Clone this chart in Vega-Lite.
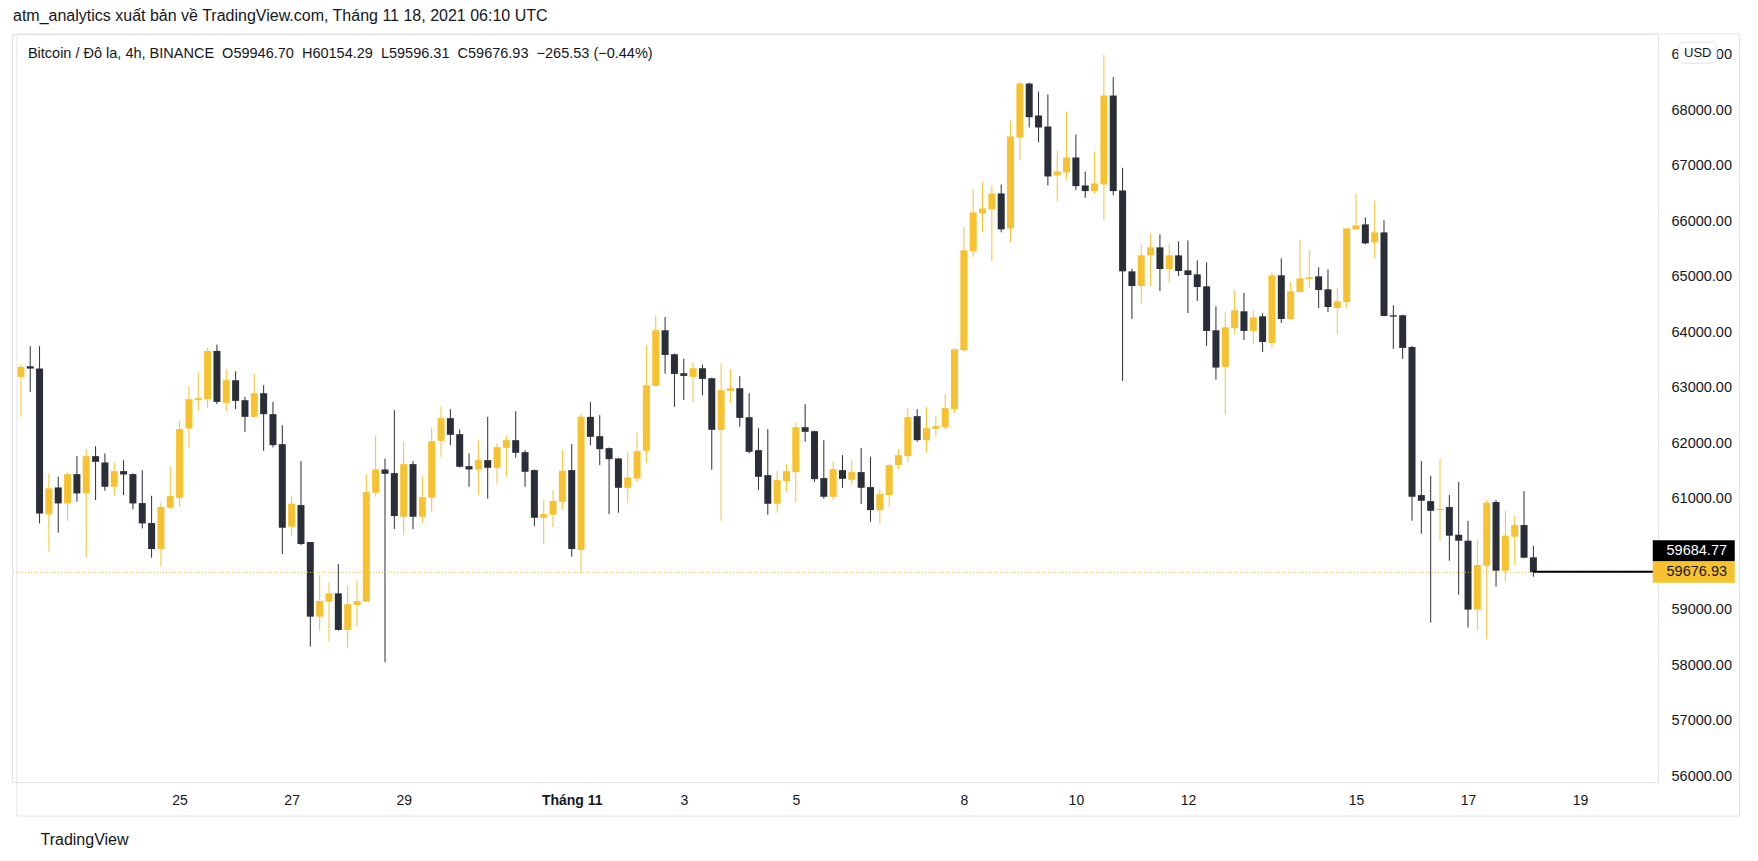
{
"$schema": "https://vega.github.io/schema/vega-lite/v6.json",
"width": 1646,
"height": 748,
"autosize": {"type": "none"},
"padding": {"left": 12, "top": 34, "right": 100, "bottom": 79},
"background": "white",
"config": {"view": {"stroke": "#e0e3eb", "strokeWidth": 1}},
"title": {"text": "atm_analytics xuất bản về TradingView.com, Tháng 11 18, 2021 06:10 UTC", "anchor": "start", "frame": "group", "offset": 10, "font": "Liberation Sans", "fontSize": 16, "fontWeight": "normal", "color": "#131722", "dx": 1},
"data": {"values": [
{"t":"2021-10-22T04:00:00Z","o":63198,"h":63426,"l":62478,"c":63378},
{"t":"2021-10-22T08:00:00Z","o":63390,"h":63750,"l":62928,"c":63348},
{"t":"2021-10-22T12:00:00Z","o":63348,"h":63750,"l":60558,"c":60738},
{"t":"2021-10-22T16:00:00Z","o":60720,"h":61458,"l":60048,"c":61188},
{"t":"2021-10-22T20:00:00Z","o":61206,"h":61398,"l":60390,"c":60918},
{"t":"2021-10-23T00:00:00Z","o":60918,"h":61470,"l":60606,"c":61446},
{"t":"2021-10-23T04:00:00Z","o":61446,"h":61770,"l":60948,"c":61098},
{"t":"2021-10-23T08:00:00Z","o":61098,"h":61896,"l":59940,"c":61770},
{"t":"2021-10-23T12:00:00Z","o":61770,"h":61950,"l":60978,"c":61668},
{"t":"2021-10-23T16:00:00Z","o":61656,"h":61818,"l":61146,"c":61218},
{"t":"2021-10-23T20:00:00Z","o":61218,"h":61656,"l":61056,"c":61500},
{"t":"2021-10-24T00:00:00Z","o":61500,"h":61698,"l":61068,"c":61440},
{"t":"2021-10-24T04:00:00Z","o":61446,"h":61458,"l":60810,"c":60918},
{"t":"2021-10-24T08:00:00Z","o":60924,"h":61518,"l":60468,"c":60558},
{"t":"2021-10-24T12:00:00Z","o":60564,"h":61056,"l":59940,"c":60096},
{"t":"2021-10-24T16:00:00Z","o":60096,"h":60930,"l":59778,"c":60852},
{"t":"2021-10-24T20:00:00Z","o":60840,"h":61578,"l":60810,"c":61050},
{"t":"2021-10-25T00:00:00Z","o":61020,"h":62406,"l":60858,"c":62256},
{"t":"2021-10-25T04:00:00Z","o":62268,"h":63030,"l":61920,"c":62796},
{"t":"2021-10-25T08:00:00Z","o":62778,"h":63276,"l":62586,"c":62814},
{"t":"2021-10-25T12:00:00Z","o":62796,"h":63720,"l":62646,"c":63666},
{"t":"2021-10-25T16:00:00Z","o":63666,"h":63780,"l":62706,"c":62748},
{"t":"2021-10-25T20:00:00Z","o":62730,"h":63336,"l":62586,"c":63138},
{"t":"2021-10-26T00:00:00Z","o":63138,"h":63300,"l":62616,"c":62766},
{"t":"2021-10-26T04:00:00Z","o":62778,"h":62838,"l":62208,"c":62478},
{"t":"2021-10-26T08:00:00Z","o":62478,"h":63246,"l":62478,"c":62904},
{"t":"2021-10-26T12:00:00Z","o":62904,"h":63048,"l":61866,"c":62526},
{"t":"2021-10-26T16:00:00Z","o":62526,"h":62748,"l":61926,"c":61968},
{"t":"2021-10-26T20:00:00Z","o":61986,"h":62328,"l":60006,"c":60480},
{"t":"2021-10-27T00:00:00Z","o":60498,"h":61056,"l":60330,"c":60912},
{"t":"2021-10-27T04:00:00Z","o":60888,"h":61680,"l":60168,"c":60186},
{"t":"2021-10-27T08:00:00Z","o":60222,"h":60222,"l":58338,"c":58878},
{"t":"2021-10-27T12:00:00Z","o":58878,"h":59628,"l":58626,"c":59160},
{"t":"2021-10-27T16:00:00Z","o":59148,"h":59490,"l":58428,"c":59298},
{"t":"2021-10-27T20:00:00Z","o":59298,"h":59826,"l":58626,"c":58638},
{"t":"2021-10-28T00:00:00Z","o":58638,"h":59430,"l":58320,"c":59100},
{"t":"2021-10-28T04:00:00Z","o":59088,"h":59538,"l":58698,"c":59160},
{"t":"2021-10-28T08:00:00Z","o":59148,"h":61446,"l":59148,"c":61122},
{"t":"2021-10-28T12:00:00Z","o":61110,"h":62130,"l":61038,"c":61530},
{"t":"2021-10-28T16:00:00Z","o":61530,"h":61728,"l":58056,"c":61452},
{"t":"2021-10-28T20:00:00Z","o":61464,"h":62598,"l":60456,"c":60690},
{"t":"2021-10-29T00:00:00Z","o":60678,"h":62028,"l":60348,"c":61626},
{"t":"2021-10-29T04:00:00Z","o":61626,"h":61680,"l":60456,"c":60678},
{"t":"2021-10-29T08:00:00Z","o":60678,"h":61410,"l":60558,"c":61032},
{"t":"2021-10-29T12:00:00Z","o":61020,"h":62286,"l":60768,"c":62040},
{"t":"2021-10-29T16:00:00Z","o":62046,"h":62670,"l":61758,"c":62454},
{"t":"2021-10-29T20:00:00Z","o":62454,"h":62616,"l":61968,"c":62154},
{"t":"2021-10-30T00:00:00Z","o":62166,"h":62250,"l":61566,"c":61578},
{"t":"2021-10-30T04:00:00Z","o":61590,"h":61818,"l":61218,"c":61530},
{"t":"2021-10-30T08:00:00Z","o":61530,"h":62058,"l":61068,"c":61698},
{"t":"2021-10-30T12:00:00Z","o":61698,"h":62478,"l":61002,"c":61560},
{"t":"2021-10-30T16:00:00Z","o":61560,"h":61998,"l":61266,"c":61932},
{"t":"2021-10-30T20:00:00Z","o":61920,"h":62148,"l":61398,"c":62058},
{"t":"2021-10-31T00:00:00Z","o":62058,"h":62580,"l":61740,"c":61830},
{"t":"2021-10-31T04:00:00Z","o":61842,"h":61878,"l":61218,"c":61488},
{"t":"2021-10-31T08:00:00Z","o":61518,"h":61530,"l":60510,"c":60660},
{"t":"2021-10-31T12:00:00Z","o":60660,"h":60978,"l":60186,"c":60726},
{"t":"2021-10-31T16:00:00Z","o":60714,"h":61158,"l":60486,"c":60960},
{"t":"2021-10-31T20:00:00Z","o":60948,"h":61878,"l":60810,"c":61506},
{"t":"2021-11-01T00:00:00Z","o":61518,"h":61986,"l":59958,"c":60096},
{"t":"2021-11-01T04:00:00Z","o":60078,"h":62538,"l":59658,"c":62478},
{"t":"2021-11-01T08:00:00Z","o":62478,"h":62742,"l":61968,"c":62118},
{"t":"2021-11-01T12:00:00Z","o":62130,"h":62508,"l":61608,"c":61896},
{"t":"2021-11-01T16:00:00Z","o":61914,"h":61926,"l":60726,"c":61716},
{"t":"2021-11-01T20:00:00Z","o":61728,"h":61740,"l":60750,"c":61200},
{"t":"2021-11-02T00:00:00Z","o":61200,"h":61836,"l":60930,"c":61386},
{"t":"2021-11-02T04:00:00Z","o":61368,"h":62196,"l":61308,"c":61860},
{"t":"2021-11-02T08:00:00Z","o":61866,"h":63768,"l":61650,"c":63048},
{"t":"2021-11-02T12:00:00Z","o":63036,"h":64308,"l":63036,"c":64038},
{"t":"2021-11-02T16:00:00Z","o":64038,"h":64278,"l":63258,"c":63594},
{"t":"2021-11-02T20:00:00Z","o":63606,"h":63618,"l":62658,"c":63252},
{"t":"2021-11-03T00:00:00Z","o":63264,"h":63528,"l":62784,"c":63216},
{"t":"2021-11-03T04:00:00Z","o":63198,"h":63462,"l":62748,"c":63354},
{"t":"2021-11-03T08:00:00Z","o":63354,"h":63420,"l":62868,"c":63162},
{"t":"2021-11-03T12:00:00Z","o":63174,"h":63186,"l":61524,"c":62244},
{"t":"2021-11-03T16:00:00Z","o":62244,"h":63444,"l":60606,"c":62958},
{"t":"2021-11-03T20:00:00Z","o":62946,"h":63336,"l":62730,"c":62994},
{"t":"2021-11-04T00:00:00Z","o":62994,"h":63210,"l":62298,"c":62460},
{"t":"2021-11-04T04:00:00Z","o":62472,"h":62904,"l":61820,"c":61848},
{"t":"2021-11-04T08:00:00Z","o":61878,"h":62274,"l":61158,"c":61398},
{"t":"2021-11-04T12:00:00Z","o":61428,"h":62256,"l":60714,"c":60912},
{"t":"2021-11-04T16:00:00Z","o":60912,"h":61500,"l":60750,"c":61338},
{"t":"2021-11-04T20:00:00Z","o":61320,"h":61626,"l":61122,"c":61500},
{"t":"2021-11-05T00:00:00Z","o":61482,"h":62382,"l":60930,"c":62292},
{"t":"2021-11-05T04:00:00Z","o":62292,"h":62706,"l":62028,"c":62208},
{"t":"2021-11-05T08:00:00Z","o":62220,"h":62230,"l":61302,"c":61356},
{"t":"2021-11-05T12:00:00Z","o":61374,"h":62058,"l":61002,"c":61038},
{"t":"2021-11-05T16:00:00Z","o":61038,"h":61680,"l":60978,"c":61536},
{"t":"2021-11-05T20:00:00Z","o":61518,"h":61788,"l":61200,"c":61362},
{"t":"2021-11-06T00:00:00Z","o":61344,"h":61698,"l":61254,"c":61482},
{"t":"2021-11-06T04:00:00Z","o":61482,"h":61914,"l":60912,"c":61200},
{"t":"2021-11-06T08:00:00Z","o":61212,"h":61758,"l":60588,"c":60798},
{"t":"2021-11-06T12:00:00Z","o":60798,"h":61170,"l":60558,"c":61086},
{"t":"2021-11-06T16:00:00Z","o":61068,"h":61626,"l":60858,"c":61608},
{"t":"2021-11-06T20:00:00Z","o":61608,"h":61890,"l":61536,"c":61788},
{"t":"2021-11-07T00:00:00Z","o":61770,"h":62634,"l":61662,"c":62472},
{"t":"2021-11-07T04:00:00Z","o":62490,"h":62616,"l":62028,"c":62058},
{"t":"2021-11-07T08:00:00Z","o":62058,"h":62652,"l":61830,"c":62274},
{"t":"2021-11-07T12:00:00Z","o":62262,"h":62490,"l":62118,"c":62310},
{"t":"2021-11-07T16:00:00Z","o":62292,"h":62886,"l":62250,"c":62634},
{"t":"2021-11-07T20:00:00Z","o":62616,"h":63700,"l":62550,"c":63696},
{"t":"2021-11-08T00:00:00Z","o":63678,"h":65898,"l":63660,"c":65478},
{"t":"2021-11-08T04:00:00Z","o":65460,"h":66576,"l":65358,"c":66162},
{"t":"2021-11-08T08:00:00Z","o":66144,"h":66702,"l":65802,"c":66234},
{"t":"2021-11-08T12:00:00Z","o":66216,"h":66648,"l":65286,"c":66504},
{"t":"2021-11-08T16:00:00Z","o":66504,"h":66666,"l":65802,"c":65856},
{"t":"2021-11-08T20:00:00Z","o":65874,"h":67818,"l":65622,"c":67530},
{"t":"2021-11-09T00:00:00Z","o":67512,"h":68520,"l":67098,"c":68484},
{"t":"2021-11-09T04:00:00Z","o":68484,"h":68502,"l":67692,"c":67878},
{"t":"2021-11-09T08:00:00Z","o":67908,"h":68340,"l":67422,"c":67692},
{"t":"2021-11-09T12:00:00Z","o":67710,"h":68286,"l":66648,"c":66810},
{"t":"2021-11-09T16:00:00Z","o":66828,"h":67278,"l":66360,"c":66900},
{"t":"2021-11-09T20:00:00Z","o":66882,"h":67980,"l":66756,"c":67152},
{"t":"2021-11-10T00:00:00Z","o":67152,"h":67566,"l":66564,"c":66636},
{"t":"2021-11-10T04:00:00Z","o":66648,"h":66900,"l":66426,"c":66546},
{"t":"2021-11-10T08:00:00Z","o":66546,"h":67260,"l":66498,"c":66684},
{"t":"2021-11-10T12:00:00Z","o":66666,"h":69000,"l":66030,"c":68268},
{"t":"2021-11-10T16:00:00Z","o":68268,"h":68600,"l":66468,"c":66546},
{"t":"2021-11-10T20:00:00Z","o":66558,"h":66966,"l":63126,"c":65100},
{"t":"2021-11-11T00:00:00Z","o":65100,"h":65148,"l":64242,"c":64836},
{"t":"2021-11-11T04:00:00Z","o":64836,"h":65586,"l":64518,"c":65388},
{"t":"2021-11-11T08:00:00Z","o":65388,"h":65784,"l":64836,"c":65532},
{"t":"2021-11-11T12:00:00Z","o":65532,"h":65766,"l":64746,"c":65142},
{"t":"2021-11-11T16:00:00Z","o":65142,"h":65586,"l":64890,"c":65388},
{"t":"2021-11-11T20:00:00Z","o":65388,"h":65640,"l":65016,"c":65106},
{"t":"2021-11-12T00:00:00Z","o":65118,"h":65658,"l":64350,"c":65034},
{"t":"2021-11-12T04:00:00Z","o":65046,"h":65298,"l":64566,"c":64818},
{"t":"2021-11-12T08:00:00Z","o":64830,"h":65262,"l":63756,"c":64026},
{"t":"2021-11-12T12:00:00Z","o":64038,"h":64470,"l":63150,"c":63366},
{"t":"2021-11-12T16:00:00Z","o":63378,"h":64362,"l":62520,"c":64092},
{"t":"2021-11-12T20:00:00Z","o":64080,"h":64746,"l":63966,"c":64398},
{"t":"2021-11-13T00:00:00Z","o":64380,"h":64710,"l":63864,"c":64026},
{"t":"2021-11-13T04:00:00Z","o":64026,"h":64398,"l":63792,"c":64272},
{"t":"2021-11-13T08:00:00Z","o":64290,"h":64344,"l":63648,"c":63828},
{"t":"2021-11-13T12:00:00Z","o":63810,"h":65082,"l":63720,"c":65028},
{"t":"2021-11-13T16:00:00Z","o":65028,"h":65334,"l":64170,"c":64242},
{"t":"2021-11-13T20:00:00Z","o":64242,"h":64908,"l":64230,"c":64740},
{"t":"2021-11-14T00:00:00Z","o":64728,"h":65670,"l":64720,"c":64974},
{"t":"2021-11-14T04:00:00Z","o":64962,"h":65478,"l":64800,"c":64992},
{"t":"2021-11-14T08:00:00Z","o":65010,"h":65172,"l":64440,"c":64764},
{"t":"2021-11-14T12:00:00Z","o":64776,"h":65136,"l":64368,"c":64458},
{"t":"2021-11-14T16:00:00Z","o":64440,"h":64800,"l":63972,"c":64560},
{"t":"2021-11-14T20:00:00Z","o":64548,"h":65880,"l":64440,"c":65874},
{"t":"2021-11-15T00:00:00Z","o":65856,"h":66504,"l":65850,"c":65928},
{"t":"2021-11-15T04:00:00Z","o":65946,"h":66072,"l":65586,"c":65604},
{"t":"2021-11-15T08:00:00Z","o":65622,"h":66378,"l":65340,"c":65802},
{"t":"2021-11-15T12:00:00Z","o":65802,"h":66018,"l":64290,"c":64296},
{"t":"2021-11-15T16:00:00Z","o":64308,"h":64488,"l":63702,"c":64284},
{"t":"2021-11-15T20:00:00Z","o":64308,"h":64320,"l":63522,"c":63720},
{"t":"2021-11-16T00:00:00Z","o":63738,"h":63756,"l":60606,"c":61038},
{"t":"2021-11-16T04:00:00Z","o":61068,"h":61680,"l":60372,"c":60966},
{"t":"2021-11-16T08:00:00Z","o":60960,"h":61416,"l":58770,"c":60786},
{"t":"2021-11-16T12:00:00Z","o":60800,"h":61716,"l":60246,"c":60822},
{"t":"2021-11-16T16:00:00Z","o":60852,"h":61068,"l":59886,"c":60336},
{"t":"2021-11-16T20:00:00Z","o":60354,"h":61302,"l":59274,"c":60246},
{"t":"2021-11-17T00:00:00Z","o":60246,"h":60606,"l":58680,"c":59004},
{"t":"2021-11-17T04:00:00Z","o":59004,"h":60264,"l":58626,"c":59808},
{"t":"2021-11-17T08:00:00Z","o":59796,"h":60978,"l":58470,"c":60930},
{"t":"2021-11-17T12:00:00Z","o":60942,"h":60978,"l":59418,"c":59706},
{"t":"2021-11-17T16:00:00Z","o":59706,"h":60780,"l":59508,"c":60336},
{"t":"2021-11-17T20:00:00Z","o":60318,"h":60690,"l":59814,"c":60528},
{"t":"2021-11-18T00:00:00Z","o":60528,"h":61140,"l":59930,"c":59940},
{"t":"2021-11-18T04:00:00Z","o":59946.70,"h":60154.29,"l":59596.31,"c":59676.93}
]},
"layer": [
{
"mark": {"type": "rule", "strokeWidth": 1},
"encoding": {
"x": {"field": "t", "type": "temporal",
"scale": {"type": "utc", "nice": false, "domain": [{"year": 2021, "month": 10, "date": 22, "hours": 2, "minutes": 20, "utc": true}, {"year": 2021, "month": 11, "date": 20, "hours": 7, "minutes": 15, "utc": true}]},
"axis": {"orient": "bottom", "grid": false, "ticks": false, "domain": false,
"values": [{"year": 2021, "month": 10, "date": 25, "utc": true}, {"year": 2021, "month": 10, "date": 27, "utc": true}, {"year": 2021, "month": 10, "date": 29, "utc": true}, {"year": 2021, "month": 11, "date": 1, "utc": true}, {"year": 2021, "month": 11, "date": 3, "utc": true}, {"year": 2021, "month": 11, "date": 5, "utc": true}, {"year": 2021, "month": 11, "date": 8, "utc": true}, {"year": 2021, "month": 11, "date": 10, "utc": true}, {"year": 2021, "month": 11, "date": 12, "utc": true}, {"year": 2021, "month": 11, "date": 15, "utc": true}, {"year": 2021, "month": 11, "date": 17, "utc": true}, {"year": 2021, "month": 11, "date": 19, "utc": true}],
"labelExpr": "utcdate(datum.value) == 1 ? 'Tháng ' + (utcmonth(datum.value) + 1) : '' + utcdate(datum.value)",
"labelFontWeight": {"condition": {"test": "utcdate(datum.value) == 1", "value": "bold"}, "value": "normal"},
"labelFont": "Liberation Sans", "labelFontSize": 14, "labelColor": "#131722", "labelPadding": 11, "labelOverlap": false, "labelFlush": false,
"title": "TradingView", "titleAnchor": "start", "titleAlign": "left", "titleX": 28, "titleY": 57, "titleBaseline": "middle", "titleFont": "Liberation Sans", "titleFontSize": 16, "titleFontWeight": "normal", "titleColor": "#131722"}},
"y": {"field": "l", "type": "quantitative",
"scale": {"nice": false, "zero": false, "domain": [55898, 69377]},
"axis": {"orient": "right", "grid": false, "ticks": false, "domain": false, "title": null,
"values": [56000, 57000, 58000, 59000, 61000, 62000, 63000, 64000, 65000, 66000, 67000, 68000, 69000],
"format": ".2f", "labelAlign": "left", "labelBaseline": "middle", "labelPadding": 13, "labelFont": "Liberation Sans", "labelFontSize": 14.5, "labelColor": "#131722", "labelOverlap": false, "labelFlush": false, "labelBound": false}},
"y2": {"field": "h"},
"color": {"condition": {"test": "datum.c >= datum.o", "value": "#F7C12F"}, "value": "#2A2E39"}
}
},
{
"mark": {"type": "bar", "width": 7},
"encoding": {
"x": {"field": "t", "type": "temporal"},
"y": {"field": "o", "type": "quantitative"},
"y2": {"field": "c"},
"color": {"condition": {"test": "datum.c >= datum.o", "value": "#F7C12F"}, "value": "#2A2E39"}
}
},
{
"data": {"values": [{"price": 59676.93}]},
"mark": {"type": "rule", "color": "#F7C12F", "strokeWidth": 1, "strokeDash": [1, 2]},
"encoding": {"y": {"field": "price", "type": "quantitative"}}
},
{
"data": {"values": [{"t0": "2021-11-18T04:00:00Z", "t1": "2021-11-20T07:15:00Z", "price": 59684.77}]},
"mark": {"type": "rule", "color": "#000000", "strokeWidth": 2},
"encoding": {"x": {"field": "t0", "type": "temporal"}, "x2": {"field": "t1"}, "y": {"field": "price", "type": "quantitative"}}
},
{
"data": {"values": [{"label": "Bitcoin / Đô la, 4h, BINANCE\u00a0\u00a0O59946.70\u00a0\u00a0H60154.29\u00a0\u00a0L59596.31\u00a0\u00a0C59676.93\u00a0\u00a0−265.53 (−0.44%)"}]},
"mark": {"type": "text", "align": "left", "baseline": "middle", "font": "Liberation Sans", "fontSize": 14.5, "color": "#131722"},
"encoding": {
"x": {"datum": {"year": 2021, "month": 10, "date": 22, "hours": 7, "utc": true}, "type": "temporal"},
"y": {"datum": 69010, "type": "quantitative"},
"text": {"field": "label"}
}
},
{
"data": {"values": [{"label": "59676.93", "price": 59676.93}]},
"layer": [
{"mark": {"type": "tick", "orient": "horizontal", "size": 82, "thickness": 21, "color": "#F7C12F", "opacity": 1},
"encoding": {"x": {"datum": {"year": 2021, "month": 11, "date": 21, "hours": 0, "minutes": 43, "utc": true}, "type": "temporal"}, "y": {"field": "price", "type": "quantitative"}}},
{"mark": {"type": "text", "align": "center", "baseline": "middle", "font": "Liberation Sans", "fontSize": 14.5, "color": "#131722", "dx": 3},
"encoding": {"x": {"datum": {"year": 2021, "month": 11, "date": 21, "hours": 0, "minutes": 43, "utc": true}, "type": "temporal"}, "y": {"field": "price", "type": "quantitative"}, "text": {"field": "label"}}}
]
},
{
"data": {"values": [{"label": "59684.77", "price": 59684.77}]},
"layer": [
{"mark": {"type": "tick", "orient": "horizontal", "size": 82, "thickness": 21, "color": "#000000", "opacity": 1, "yOffset": -21},
"encoding": {"x": {"datum": {"year": 2021, "month": 11, "date": 21, "hours": 0, "minutes": 43, "utc": true}, "type": "temporal"}, "y": {"field": "price", "type": "quantitative"}}},
{"mark": {"type": "text", "align": "center", "baseline": "middle", "font": "Liberation Sans", "fontSize": 14.5, "color": "#ffffff", "dx": 3, "dy": -21},
"encoding": {"x": {"datum": {"year": 2021, "month": 11, "date": 21, "hours": 0, "minutes": 43, "utc": true}, "type": "temporal"}, "y": {"field": "price", "type": "quantitative"}, "text": {"field": "label"}}}
]
},
{
"data": {"values": [{"label": "USD"}]},
"layer": [
{"mark": {"type": "tick", "orient": "horizontal", "size": 38, "thickness": 21, "color": "#ffffff", "opacity": 1, "stroke": "#e0e3eb", "strokeWidth": 1, "cornerRadius": 5},
"encoding": {"x": {"datum": {"year": 2021, "month": 11, "date": 21, "hours": 2, "minutes": 25, "utc": true}, "type": "temporal"}, "y": {"datum": 69040, "type": "quantitative"}}},
{"mark": {"type": "text", "align": "center", "baseline": "middle", "font": "Liberation Sans", "fontSize": 13, "color": "#131722"},
"encoding": {"x": {"datum": {"year": 2021, "month": 11, "date": 21, "hours": 2, "minutes": 25, "utc": true}, "type": "temporal"}, "y": {"datum": 69040, "type": "quantitative"}, "text": {"field": "label"}}}
]
},
{
"data": {"values": [{"frame": "outer"}]},
"mark": {"type": "rect", "fillOpacity": 0, "stroke": "#e0e3eb", "strokeWidth": 1},
"encoding": {
"x": {"datum": {"year": 2021, "month": 10, "date": 22, "hours": 2, "minutes": 20, "utc": true}, "type": "temporal"},
"x2": {"datum": {"year": 2021, "month": 11, "date": 21, "hours": 20, "minutes": 18, "utc": true}},
"y": {"datum": 69377, "type": "quantitative"},
"y2": {"datum": 55285}
}
}
]
}
